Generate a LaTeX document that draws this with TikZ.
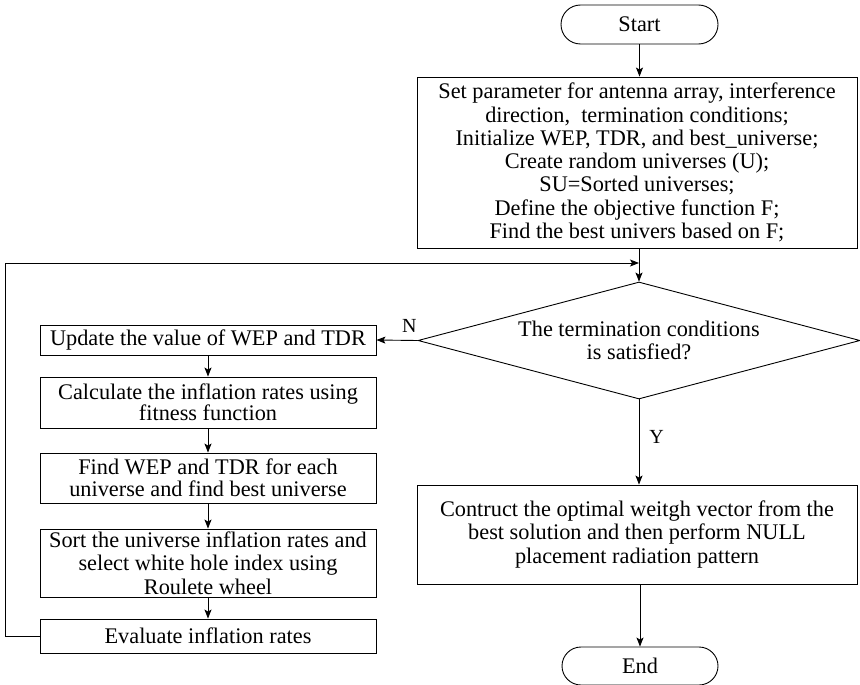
\documentclass[tikz,border=0pt]{standalone}
\usepackage{fontspec}
\setmainfont{Liberation Serif}
\usetikzlibrary{arrows.meta,shapes.geometric,shapes.misc}
\begin{document}
\begin{tikzpicture}[x=1pt,y=-1pt,
  font=\fontsize{22.3}{23.3}\selectfont,
  line width=0.9pt,
  box/.style={draw, rectangle, align=center, inner sep=0pt},
  wide/.style={box, minimum width=440pt},
  side/.style={box, minimum width=336pt},
  term/.style={draw, rounded rectangle, inner sep=0pt, minimum width=157pt, minimum height=39pt},
  decision/.style={draw, diamond, aspect=3.78, inner sep=0pt, align=center,
                   minimum width=442pt, minimum height=117pt},
  flow/.style={-{Stealth[length=9pt,width=7pt,inset=2pt]}},
  lbl/.style={inner sep=0pt, font=\fontsize{20}{22}\selectfont}]
\useasboundingbox (0,0) rectangle (860,685);

% main column
\node[term] (start) at (639.5,24.5) {Start};
\node[wide, minimum height=171pt] (setup) at (637,162.5)
  {Set parameter for antenna array, interference\\
   direction,\ \ termination conditions;\\
   Initialize WEP, TDR, and best\_universe;\\
   Create random universes (U);\\
   SU=Sorted universes;\\
   Define the objective function F;\\
   Find the best univers based on F;};
\node[decision] (dec) at (639,340.5)
  {The termination conditions\\ is satisfied?};
\node[wide, minimum height=99pt] (final) at (637,534.5)
  {Contruct the optimal weitgh vector from the\\
   best solution and then perform NULL\\
   placement radiation pattern};
\node[term, minimum width=156pt, minimum height=38pt] (end) at (640,666) {End};

% update loop
\node[side, minimum height=30pt] (b1) at (208,340) {Update the value of WEP and TDR};
\node[side, minimum height=51pt, font=\fontsize{22.3}{21.5}\selectfont] (b2) at (208,402.5)
  {Calculate the inflation rates using\\ fitness function};
\node[side, minimum height=50pt, font=\fontsize{22.3}{22}\selectfont] (b3) at (208,478)
  {Find WEP and TDR for each\\ universe and find best universe};
\node[side, minimum height=68pt] (b4) at (208,563)
  {Sort the universe inflation rates and\\ select white hole index using\\ Roulete wheel};
\node[side, minimum height=34pt] (b5) at (208,636) {Evaluate inflation rates};

\coordinate (join) at (639,263);

% connectors
\draw[flow] (start.south) -- (setup.north -| start.south);
\draw[flow] (dec.north |- setup.south) -- (dec.north);
\draw[flow] (dec.west) -- (b1.east) node[lbl, pos=0.2, above=7pt] {N};
\draw[flow] (b1) -- (b2);
\draw[flow] (b2) -- (b3);
\draw[flow] (b3) -- (b4);
\draw[flow] (b4) -- (b5);
\draw[flow] (b5.west) -- ++(-34,0) |- (join);
\draw[flow] (dec.south) -- (final.north -| dec.south)
  node[lbl, pos=0.44, right=10pt] {Y};
\draw[flow] (final.south -| end.north) -- (end.north);
\end{tikzpicture}
\end{document}
